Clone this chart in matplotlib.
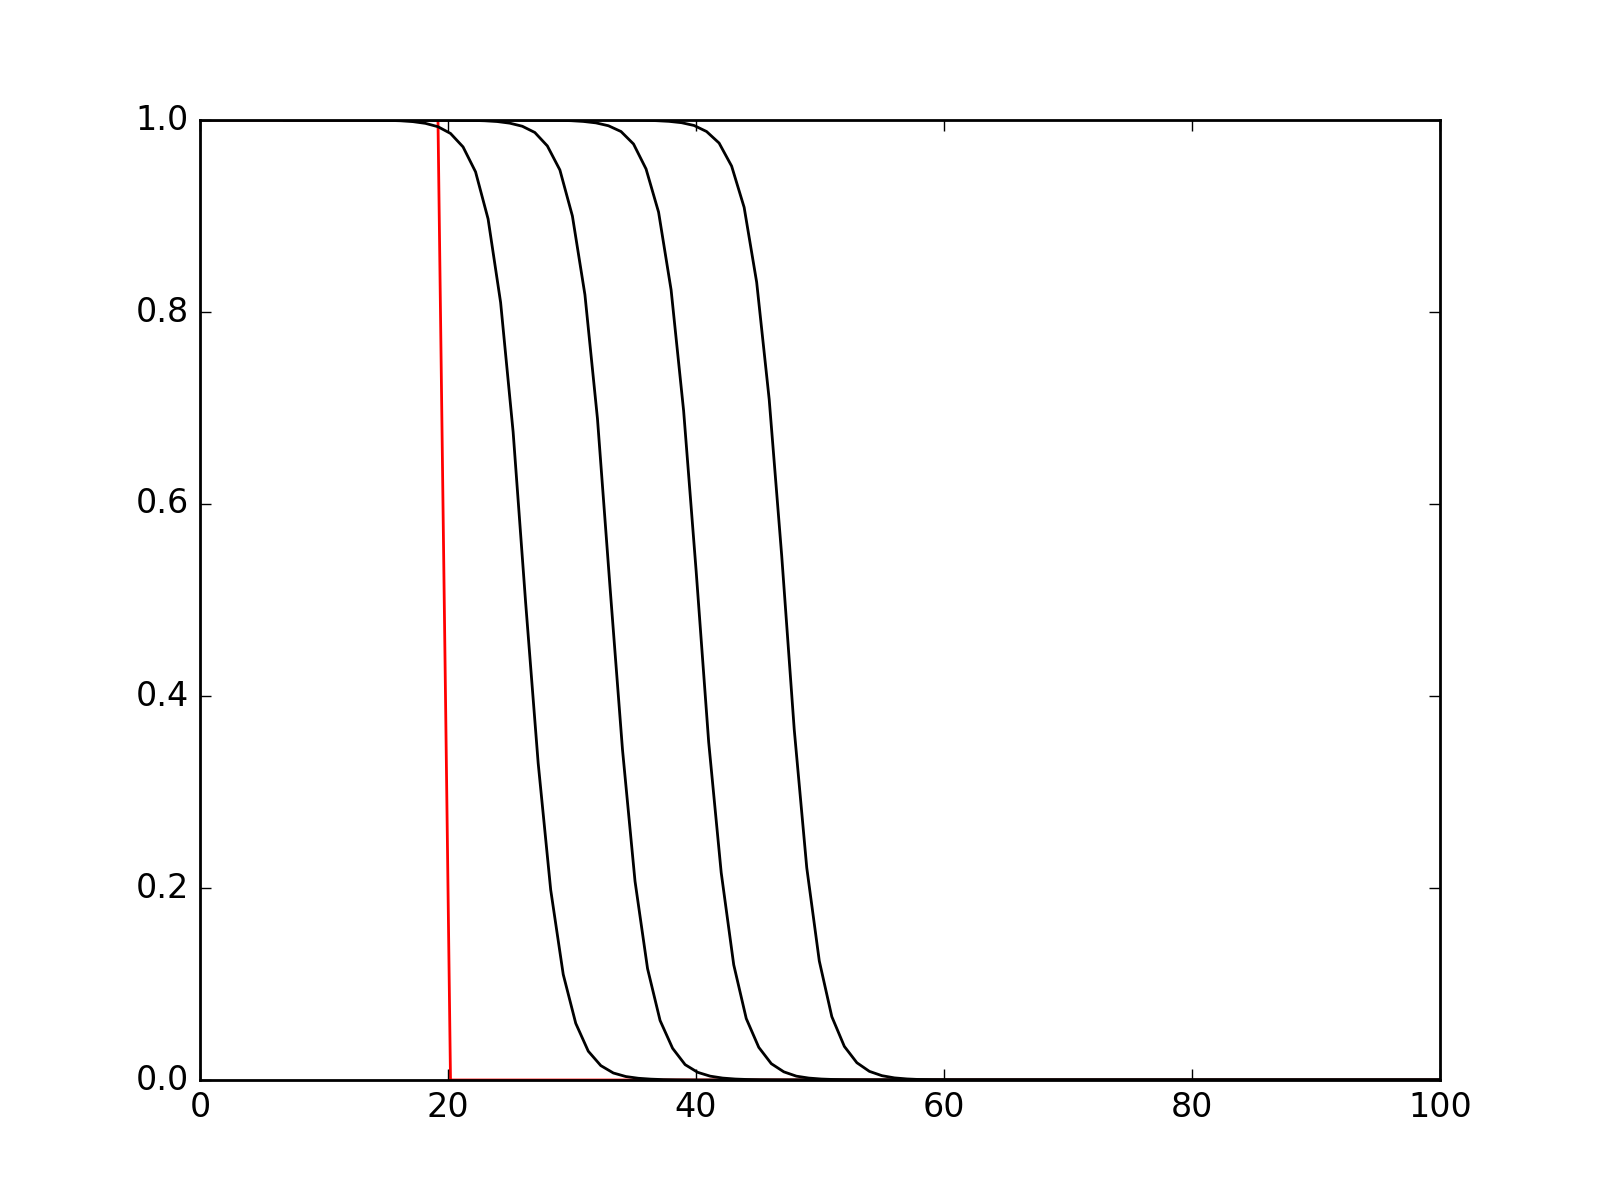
import numpy as np
import matplotlib
matplotlib.use("Agg")
import matplotlib.pyplot as plt

plt.style.use("classic")

# grid of 100 points from 0 to 100
x = np.linspace(0, 100, 100)

# initial condition (red step): 1 up to index 19, 0 afterwards
initial = [1.0] * 20 + [0.0] * 80

# the four fronts, each drawn on the grid moved right by its offset
x_offsets = [0.0, 6.8, 13.75, 20.65]

# values from grid index 14 to 39 (1 before, 0 after)
front_start = 14
front1 = [0.9998, 0.9996, 0.9992, 0.9983, 0.9965, 0.993, 0.986, 0.972,
          0.946, 0.897, 0.810, 0.675, 0.497, 0.330, 0.198, 0.110, 0.059,
          0.030, 0.015, 0.0073, 0.0036, 0.0018, 0.0009, 0.0004, 0.0002,
          0.0001]
front2 = [0.9998, 0.9996, 0.9992, 0.9984, 0.9967, 0.9935, 0.987, 0.973,
          0.948, 0.900, 0.818, 0.689, 0.514, 0.344, 0.207, 0.116, 0.062,
          0.033, 0.016, 0.008, 0.004, 0.002, 0.001, 0.0005, 0.0002, 0.0001]
front3 = [0.9998, 0.9996, 0.9993, 0.9985, 0.997, 0.994, 0.988, 0.975,
          0.949, 0.904, 0.823, 0.697, 0.530, 0.352, 0.216, 0.120, 0.064,
          0.034, 0.017, 0.0085, 0.004, 0.002, 0.001, 0.0005, 0.0002, 0.0001]
front4 = [0.9998, 0.9997, 0.9993, 0.9986, 0.9972, 0.9943, 0.988, 0.976,
          0.952, 0.909, 0.831, 0.709, 0.546, 0.365, 0.221, 0.124, 0.066,
          0.035, 0.018, 0.009, 0.0045, 0.0022, 0.0011, 0.0005, 0.0002,
          0.0001]


def full_profile(values):
    y = np.zeros(len(x))
    y[:front_start] = 1.0
    y[front_start:front_start + len(values)] = values
    return y


fig = plt.figure(figsize=(8, 6), dpi=200)
plt.plot(x, initial, "r")
for off, vals in zip(x_offsets, [front1, front2, front3, front4]):
    plt.plot(x + off, full_profile(vals), "k")

plt.xlim(0, 100)
plt.ylim(0, 1)

plt.savefig("out.png", dpi=200)
